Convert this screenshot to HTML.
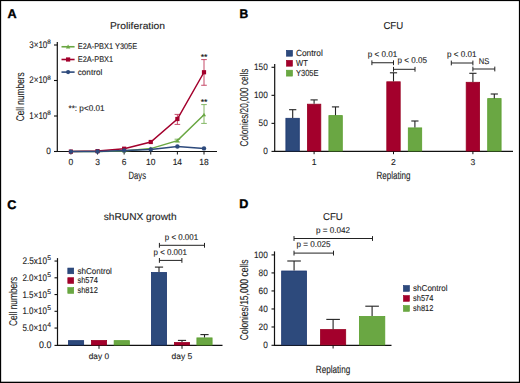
<!DOCTYPE html>
<html><head><meta charset="utf-8"><style>
html,body{margin:0;padding:0;background:#fff;}
svg{display:block;font-family:"Liberation Sans",sans-serif;}
text{stroke:#1e1e1e;stroke-width:0.12px;text-rendering:geometricPrecision;}
</style></head><body>
<svg width="520" height="383" viewBox="0 0 520 383" fill="#1e1e1e">
<rect width="520" height="383" fill="#fff"/>
<text x="7.4" y="17.8" font-size="12.6" font-weight="bold" fill="#000" style="stroke:#000;stroke-width:0.4px">A</text>
<text x="110" y="29.2" font-size="9.7" textLength="55" lengthAdjust="spacingAndGlyphs">Proliferation</text>
<line x1="57.3" y1="42" x2="57.3" y2="152.05" stroke="#111" stroke-width="1.2"/>
<line x1="56.699999999999996" y1="151.5" x2="217" y2="151.5" stroke="#111" stroke-width="1.2"/>
<line x1="54" y1="45" x2="57.3" y2="45" stroke="#111" stroke-width="1.1"/>
<text x="47.3" y="47.6" font-size="9.7" textLength="18" lengthAdjust="spacingAndGlyphs" text-anchor="end">3×10</text>
<text x="47.3" y="44.0" font-size="6.3">8</text>
<line x1="54" y1="80.5" x2="57.3" y2="80.5" stroke="#111" stroke-width="1.1"/>
<text x="47.3" y="83.1" font-size="9.7" textLength="18" lengthAdjust="spacingAndGlyphs" text-anchor="end">2×10</text>
<text x="47.3" y="79.5" font-size="6.3">8</text>
<line x1="54" y1="116" x2="57.3" y2="116" stroke="#111" stroke-width="1.1"/>
<text x="47.3" y="118.6" font-size="9.7" textLength="18" lengthAdjust="spacingAndGlyphs" text-anchor="end">1×10</text>
<text x="47.3" y="115.0" font-size="6.3">8</text>
<line x1="54" y1="151.5" x2="57.3" y2="151.5" stroke="#111" stroke-width="1.1"/>
<text x="50.8" y="154.0" font-size="9.4" textLength="4.6" lengthAdjust="spacingAndGlyphs" text-anchor="end">0</text>
<line x1="70.9" y1="151.5" x2="70.9" y2="154.5" stroke="#111" stroke-width="1.0"/>
<text x="70.9" y="165.2" font-size="8.9" textLength="4.7" lengthAdjust="spacingAndGlyphs" text-anchor="middle">0</text>
<line x1="97.52000000000001" y1="151.5" x2="97.52000000000001" y2="154.5" stroke="#111" stroke-width="1.0"/>
<text x="97.52000000000001" y="165.2" font-size="8.9" textLength="4.7" lengthAdjust="spacingAndGlyphs" text-anchor="middle">3</text>
<line x1="124.14000000000001" y1="151.5" x2="124.14000000000001" y2="154.5" stroke="#111" stroke-width="1.0"/>
<text x="124.14000000000001" y="165.2" font-size="8.9" textLength="4.7" lengthAdjust="spacingAndGlyphs" text-anchor="middle">6</text>
<line x1="150.76" y1="151.5" x2="150.76" y2="154.5" stroke="#111" stroke-width="1.0"/>
<text x="150.76" y="165.2" font-size="8.9" textLength="9.4" lengthAdjust="spacingAndGlyphs" text-anchor="middle">10</text>
<line x1="177.38" y1="151.5" x2="177.38" y2="154.5" stroke="#111" stroke-width="1.0"/>
<text x="177.38" y="165.2" font-size="8.9" textLength="9.4" lengthAdjust="spacingAndGlyphs" text-anchor="middle">14</text>
<line x1="204.0" y1="151.5" x2="204.0" y2="154.5" stroke="#111" stroke-width="1.0"/>
<text x="204.0" y="165.2" font-size="8.9" textLength="9.4" lengthAdjust="spacingAndGlyphs" text-anchor="middle">18</text>
<text x="128.6" y="179.0" font-size="10.6" textLength="17.4" lengthAdjust="spacingAndGlyphs">Days</text>
<text x="24.0" y="96.8" font-size="11.2" textLength="49.0" lengthAdjust="spacingAndGlyphs" text-anchor="middle" transform="rotate(-90 24.0 96.8)">Cell numbers</text>
<line x1="61.5" y1="46.75" x2="74.6" y2="46.75" stroke="#6aa743" stroke-width="1.6"/>
<path d="M65.89999999999999 48.51 L68.1 44.55 L70.3 48.51 Z" fill="#6aa743"/>
<text x="77.75" y="49.25" font-size="8.2" textLength="59.4" lengthAdjust="spacingAndGlyphs">E2A-PBX1 Y305E</text>
<line x1="61.5" y1="59.5" x2="74.6" y2="59.5" stroke="#a3002c" stroke-width="1.6"/>
<rect x="66.0" y="57.4" width="4.2" height="4.2" fill="#a3002c"/>
<text x="77.75" y="62.0" font-size="8.2" textLength="35.4" lengthAdjust="spacingAndGlyphs">E2A-PBX1</text>
<line x1="61.5" y1="72.1" x2="74.6" y2="72.1" stroke="#2d4a7c" stroke-width="1.6"/>
<circle cx="68.1" cy="72.1" r="2.1" fill="#2d4a7c"/>
<text x="77.75" y="74.6" font-size="8.2" textLength="24.5" lengthAdjust="spacingAndGlyphs">control</text>
<text x="68.5" y="110.6" font-size="8.4" textLength="36" lengthAdjust="spacingAndGlyphs">**: p&lt;0.01</text>
<line x1="177.38" y1="114.4" x2="177.38" y2="124.4" stroke="#c54a68" stroke-width="1.0"/>
<line x1="174.57999999999998" y1="114.4" x2="180.18" y2="114.4" stroke="#c54a68" stroke-width="1.0"/>
<line x1="174.57999999999998" y1="124.4" x2="180.18" y2="124.4" stroke="#c54a68" stroke-width="1.0"/>
<line x1="204.0" y1="59.6" x2="204.0" y2="85.25" stroke="#c54a68" stroke-width="1.0"/>
<line x1="201.2" y1="59.6" x2="206.8" y2="59.6" stroke="#c54a68" stroke-width="1.0"/>
<line x1="201.2" y1="85.25" x2="206.8" y2="85.25" stroke="#c54a68" stroke-width="1.0"/>
<line x1="204.0" y1="104.6" x2="204.0" y2="123.4" stroke="#84b865" stroke-width="1.0"/>
<line x1="201.2" y1="104.6" x2="206.8" y2="104.6" stroke="#84b865" stroke-width="1.0"/>
<line x1="201.2" y1="123.4" x2="206.8" y2="123.4" stroke="#84b865" stroke-width="1.0"/>
<line x1="177.38" y1="139.2" x2="177.38" y2="142.0" stroke="#84b865" stroke-width="1.0"/>
<line x1="174.57999999999998" y1="139.2" x2="180.18" y2="139.2" stroke="#84b865" stroke-width="1.0"/>
<line x1="174.57999999999998" y1="142.0" x2="180.18" y2="142.0" stroke="#84b865" stroke-width="1.0"/>
<path d="M70.90 151.60 L97.52 151.40 L124.14 150.90 L150.76 148.60 L177.38 140.60 L204.00 114.75" stroke="#6aa743" stroke-width="1.5" fill="none"/>
<path d="M70.90 151.60 L97.52 151.10 L124.14 148.70 L150.76 142.00 L177.38 119.00 L204.00 72.25" stroke="#a3002c" stroke-width="1.5" fill="none"/>
<path d="M70.90 151.60 L97.52 151.50 L124.14 150.40 L150.76 149.40 L177.38 146.50 L204.00 148.40" stroke="#2d4a7c" stroke-width="1.5" fill="none"/>
<path d="M68.9 153.2 L70.9 149.6 L72.9 153.2 Z" fill="#6aa743"/>
<path d="M95.52000000000001 153.0 L97.52000000000001 149.4 L99.52000000000001 153.0 Z" fill="#6aa743"/>
<path d="M122.14000000000001 152.5 L124.14000000000001 148.9 L126.14000000000001 152.5 Z" fill="#6aa743"/>
<path d="M148.76 150.2 L150.76 146.6 L152.76 150.2 Z" fill="#6aa743"/>
<path d="M175.38 142.2 L177.38 138.6 L179.38 142.2 Z" fill="#6aa743"/>
<path d="M202.0 116.35 L204.0 112.75 L206.0 116.35 Z" fill="#6aa743"/>
<rect x="68.80000000000001" y="149.5" width="4.2" height="4.2" fill="#a3002c"/>
<rect x="95.42000000000002" y="149.0" width="4.2" height="4.2" fill="#a3002c"/>
<rect x="122.04000000000002" y="146.6" width="4.2" height="4.2" fill="#a3002c"/>
<rect x="148.66" y="139.9" width="4.2" height="4.2" fill="#a3002c"/>
<rect x="175.28" y="116.9" width="4.2" height="4.2" fill="#a3002c"/>
<rect x="201.9" y="70.15" width="4.2" height="4.2" fill="#a3002c"/>
<circle cx="70.9" cy="151.6" r="2.2" fill="#2d4a7c"/>
<circle cx="97.52000000000001" cy="151.5" r="2.2" fill="#2d4a7c"/>
<circle cx="124.14000000000001" cy="150.4" r="2.2" fill="#2d4a7c"/>
<circle cx="150.76" cy="149.4" r="2.2" fill="#2d4a7c"/>
<circle cx="177.38" cy="146.5" r="2.2" fill="#2d4a7c"/>
<circle cx="204.0" cy="148.4" r="2.2" fill="#2d4a7c"/>
<text x="204.1" y="59.6" font-size="8.8" text-anchor="middle" fill="#000">**</text>
<text x="204.1" y="104.9" font-size="8.8" text-anchor="middle" fill="#000">**</text>
<text x="239.4" y="17.8" font-size="12.6" textLength="8.7" lengthAdjust="spacingAndGlyphs" font-weight="bold" fill="#000" style="stroke:#000;stroke-width:0.4px">B</text>
<text x="383.4" y="29.4" font-size="10.1" textLength="19.8" lengthAdjust="spacingAndGlyphs">CFU</text>
<line x1="274.7" y1="64" x2="274.7" y2="151.95000000000002" stroke="#111" stroke-width="1.2"/>
<line x1="274.09999999999997" y1="151.4" x2="513" y2="151.4" stroke="#111" stroke-width="1.25"/>
<line x1="271.5" y1="151.4" x2="274.7" y2="151.4" stroke="#111" stroke-width="1.1"/>
<text x="267.8" y="154.0" font-size="9.4" textLength="4.6" lengthAdjust="spacingAndGlyphs" text-anchor="end">0</text>
<line x1="271.5" y1="123.36500000000001" x2="274.7" y2="123.36500000000001" stroke="#111" stroke-width="1.1"/>
<text x="267.8" y="125.965" font-size="9.4" textLength="9.2" lengthAdjust="spacingAndGlyphs" text-anchor="end">50</text>
<line x1="271.5" y1="95.33000000000001" x2="274.7" y2="95.33000000000001" stroke="#111" stroke-width="1.1"/>
<text x="267.8" y="97.93" font-size="9.4" textLength="13.799999999999999" lengthAdjust="spacingAndGlyphs" text-anchor="end">100</text>
<line x1="271.5" y1="67.29500000000002" x2="274.7" y2="67.29500000000002" stroke="#111" stroke-width="1.1"/>
<text x="267.8" y="69.89500000000001" font-size="9.4" textLength="13.799999999999999" lengthAdjust="spacingAndGlyphs" text-anchor="end">150</text>
<text x="248.3" y="107.6" font-size="11.4" textLength="77.8" lengthAdjust="spacingAndGlyphs" text-anchor="middle" transform="rotate(-90 248.3 107.6)">Colonies/20,000 cells</text>
<rect x="286.40" y="50.30" width="6.10" height="5.90" fill="#2d4a7c" stroke="#1c3770" stroke-width="0.6"/>
<text x="296" y="56.3" font-size="8.8" textLength="26.75" lengthAdjust="spacingAndGlyphs">Control</text>
<rect x="286.40" y="60.30" width="6.10" height="5.90" fill="#a3002c" stroke="#980022" stroke-width="0.6"/>
<text x="296" y="66.3" font-size="8.8" textLength="11.75" lengthAdjust="spacingAndGlyphs">WT</text>
<rect x="286.40" y="70.20" width="6.10" height="5.90" fill="#6aa743" stroke="#5a9f2e" stroke-width="0.6"/>
<text x="296" y="76.2" font-size="8.8" textLength="22.5" lengthAdjust="spacingAndGlyphs">Y305E</text>
<rect x="285.90" y="118.30" width="13.40" height="32.70" fill="#2d4a7c" stroke="#1c3770" stroke-width="0.8"/>
<rect x="307.40" y="104.20" width="13.40" height="46.80" fill="#a3002c" stroke="#980022" stroke-width="0.8"/>
<rect x="328.90" y="115.60" width="13.40" height="35.40" fill="#6aa743" stroke="#5a9f2e" stroke-width="0.8"/>
<line x1="314.1" y1="151.4" x2="314.1" y2="154.20000000000002" stroke="#111" stroke-width="1.0"/>
<text x="314.1" y="165.2" font-size="8.6" text-anchor="middle">1</text>
<rect x="386.80" y="81.80" width="13.40" height="69.20" fill="#a3002c" stroke="#980022" stroke-width="0.8"/>
<rect x="408.30" y="127.90" width="13.40" height="23.10" fill="#6aa743" stroke="#5a9f2e" stroke-width="0.8"/>
<line x1="393.5" y1="151.4" x2="393.5" y2="154.20000000000002" stroke="#111" stroke-width="1.0"/>
<text x="393.5" y="165.2" font-size="8.6" text-anchor="middle">2</text>
<rect x="466.20" y="82.30" width="13.40" height="68.70" fill="#a3002c" stroke="#980022" stroke-width="0.8"/>
<rect x="487.70" y="98.60" width="13.40" height="52.40" fill="#6aa743" stroke="#5a9f2e" stroke-width="0.8"/>
<line x1="472.9" y1="151.4" x2="472.9" y2="154.20000000000002" stroke="#111" stroke-width="1.0"/>
<text x="472.9" y="165.2" font-size="8.6" text-anchor="middle">3</text>
<line x1="292.7" y1="117.9" x2="292.7" y2="109.7" stroke="#222" stroke-width="1.1"/>
<line x1="289.09999999999997" y1="109.7" x2="296.3" y2="109.7" stroke="#222" stroke-width="1.1"/>
<line x1="314.1" y1="103.8" x2="314.1" y2="99.9" stroke="#222" stroke-width="1.1"/>
<line x1="310.5" y1="99.9" x2="317.70000000000005" y2="99.9" stroke="#222" stroke-width="1.1"/>
<line x1="335.5" y1="115.2" x2="335.5" y2="106.9" stroke="#222" stroke-width="1.1"/>
<line x1="331.9" y1="106.9" x2="339.1" y2="106.9" stroke="#222" stroke-width="1.1"/>
<line x1="393.5" y1="81.4" x2="393.5" y2="72.8" stroke="#222" stroke-width="1.1"/>
<line x1="389.9" y1="72.8" x2="397.1" y2="72.8" stroke="#222" stroke-width="1.1"/>
<line x1="414.9" y1="127.5" x2="414.9" y2="121.0" stroke="#222" stroke-width="1.1"/>
<line x1="411.29999999999995" y1="121.0" x2="418.5" y2="121.0" stroke="#222" stroke-width="1.1"/>
<line x1="472.9" y1="81.9" x2="472.9" y2="73.3" stroke="#222" stroke-width="1.1"/>
<line x1="469.29999999999995" y1="73.3" x2="476.5" y2="73.3" stroke="#222" stroke-width="1.1"/>
<line x1="494.3" y1="98.4" x2="494.3" y2="94.0" stroke="#222" stroke-width="1.1"/>
<line x1="490.7" y1="94.0" x2="497.90000000000003" y2="94.0" stroke="#222" stroke-width="1.1"/>
<text x="376.5" y="179.0" font-size="10.6" textLength="34.0" lengthAdjust="spacingAndGlyphs">Replating</text>
<line x1="371.9" y1="62.75" x2="393.5" y2="62.75" stroke="#222" stroke-width="1.0"/>
<line x1="371.9" y1="60.35" x2="371.9" y2="65.15" stroke="#222" stroke-width="1.0"/>
<line x1="393.5" y1="60.35" x2="393.5" y2="65.15" stroke="#222" stroke-width="1.0"/>
<line x1="393.5" y1="69.3" x2="415" y2="69.3" stroke="#222" stroke-width="1.0"/>
<line x1="393.5" y1="66.89999999999999" x2="393.5" y2="71.7" stroke="#222" stroke-width="1.0"/>
<line x1="415" y1="66.89999999999999" x2="415" y2="71.7" stroke="#222" stroke-width="1.0"/>
<line x1="451.3" y1="63" x2="472.9" y2="63" stroke="#222" stroke-width="1.0"/>
<line x1="451.3" y1="60.6" x2="451.3" y2="65.4" stroke="#222" stroke-width="1.0"/>
<line x1="472.9" y1="60.6" x2="472.9" y2="65.4" stroke="#222" stroke-width="1.0"/>
<line x1="472.9" y1="69" x2="494.8" y2="69" stroke="#222" stroke-width="1.0"/>
<line x1="472.9" y1="66.6" x2="472.9" y2="71.4" stroke="#222" stroke-width="1.0"/>
<line x1="494.8" y1="66.6" x2="494.8" y2="71.4" stroke="#222" stroke-width="1.0"/>
<text x="367.75" y="56.5" font-size="8.4" textLength="29.4" lengthAdjust="spacingAndGlyphs">p &lt; 0.01</text>
<text x="397.5" y="63.4" font-size="8.4" textLength="29.4" lengthAdjust="spacingAndGlyphs">p &lt; 0.05</text>
<text x="447" y="56.7" font-size="8.4" textLength="29.4" lengthAdjust="spacingAndGlyphs">p &lt; 0.01</text>
<text x="478.8" y="63.8" font-size="8.4" textLength="10.5" lengthAdjust="spacingAndGlyphs">NS</text>
<text x="7.2" y="208.6" font-size="12.6" font-weight="bold" fill="#000" style="stroke:#000;stroke-width:0.4px">C</text>
<text x="103.75" y="220" font-size="10.0" textLength="72.8" lengthAdjust="spacingAndGlyphs">shRUNX growth</text>
<line x1="57.5" y1="258.1" x2="57.5" y2="345.95" stroke="#111" stroke-width="1.2"/>
<line x1="56.9" y1="345.4" x2="222.5" y2="345.4" stroke="#111" stroke-width="1.2"/>
<line x1="54.5" y1="261.05" x2="57.5" y2="261.05" stroke="#111" stroke-width="1.1"/>
<text x="47.0" y="264.05" font-size="9.6" textLength="24.6" lengthAdjust="spacingAndGlyphs" text-anchor="end">2.5x10</text>
<text x="47.3" y="260.15000000000003" font-size="6.7">5</text>
<line x1="54.5" y1="277.8" x2="57.5" y2="277.8" stroke="#111" stroke-width="1.1"/>
<text x="47.0" y="280.8" font-size="9.6" textLength="24.6" lengthAdjust="spacingAndGlyphs" text-anchor="end">2.0×10</text>
<text x="47.3" y="276.90000000000003" font-size="6.7">5</text>
<line x1="54.5" y1="294.55" x2="57.5" y2="294.55" stroke="#111" stroke-width="1.1"/>
<text x="47.0" y="297.55" font-size="9.6" textLength="24.6" lengthAdjust="spacingAndGlyphs" text-anchor="end">1.5×10</text>
<text x="47.3" y="293.65000000000003" font-size="6.7">5</text>
<line x1="54.5" y1="311.3" x2="57.5" y2="311.3" stroke="#111" stroke-width="1.1"/>
<text x="47.0" y="314.3" font-size="9.6" textLength="24.6" lengthAdjust="spacingAndGlyphs" text-anchor="end">1.0×10</text>
<text x="47.3" y="310.40000000000003" font-size="6.7">5</text>
<line x1="54.5" y1="328.05" x2="57.5" y2="328.05" stroke="#111" stroke-width="1.1"/>
<text x="47.0" y="331.05" font-size="9.6" textLength="24.6" lengthAdjust="spacingAndGlyphs" text-anchor="end">5.0×10</text>
<text x="47.3" y="327.15000000000003" font-size="6.7">4</text>
<line x1="54.5" y1="345.4" x2="57.5" y2="345.4" stroke="#111" stroke-width="1.1"/>
<text x="51.4" y="348.4" font-size="9.6" textLength="12.4" lengthAdjust="spacingAndGlyphs" text-anchor="end">0.0</text>
<text x="16.8" y="301.4" font-size="11.2" textLength="49.3" lengthAdjust="spacingAndGlyphs" text-anchor="middle" transform="rotate(-90 16.8 301.4)">Cell numbers</text>
<rect x="67.80" y="268.05" width="5.90" height="5.70" fill="#2d4a7c" stroke="#1c3770" stroke-width="0.6"/>
<text x="77.5" y="273.65" font-size="8.6" textLength="34.4" lengthAdjust="spacingAndGlyphs">shControl</text>
<rect x="67.80" y="277.70" width="5.90" height="5.70" fill="#a3002c" stroke="#980022" stroke-width="0.6"/>
<text x="77.5" y="283.29999999999995" font-size="8.6" textLength="20.3" lengthAdjust="spacingAndGlyphs">sh574</text>
<rect x="67.80" y="287.60" width="5.90" height="5.70" fill="#6aa743" stroke="#5a9f2e" stroke-width="0.6"/>
<text x="77.5" y="293.2" font-size="8.6" textLength="20.3" lengthAdjust="spacingAndGlyphs">sh812</text>
<rect x="68.45" y="340.65" width="15.20" height="4.35" fill="#2d4a7c" stroke="#1c3770" stroke-width="0.8"/>
<rect x="91.40" y="340.50" width="15.20" height="4.50" fill="#a3002c" stroke="#980022" stroke-width="0.8"/>
<rect x="114.15" y="340.65" width="15.20" height="4.35" fill="#6aa743" stroke="#5a9f2e" stroke-width="0.8"/>
<rect x="151.40" y="272.50" width="15.20" height="72.50" fill="#2d4a7c" stroke="#1c3770" stroke-width="0.8"/>
<rect x="174.40" y="342.50" width="15.20" height="2.50" fill="#a3002c" stroke="#980022" stroke-width="0.8"/>
<rect x="196.90" y="337.90" width="15.20" height="7.10" fill="#6aa743" stroke="#5a9f2e" stroke-width="0.8"/>
<line x1="99.0" y1="345.4" x2="99.0" y2="348.79999999999995" stroke="#111" stroke-width="1.0"/>
<line x1="182.0" y1="345.4" x2="182.0" y2="348.79999999999995" stroke="#111" stroke-width="1.0"/>
<line x1="159.0" y1="272.1" x2="159.0" y2="267.1" stroke="#222" stroke-width="1.1"/>
<line x1="154.9" y1="267.1" x2="163.1" y2="267.1" stroke="#222" stroke-width="1.1"/>
<line x1="182.0" y1="342.1" x2="182.0" y2="340.4" stroke="#222" stroke-width="1.1"/>
<line x1="177.9" y1="340.4" x2="186.1" y2="340.4" stroke="#222" stroke-width="1.1"/>
<line x1="204.5" y1="337.5" x2="204.5" y2="334.6" stroke="#222" stroke-width="1.1"/>
<line x1="200.4" y1="334.6" x2="208.6" y2="334.6" stroke="#222" stroke-width="1.1"/>
<text x="88.75" y="358.75" font-size="8.2" textLength="20.25" lengthAdjust="spacingAndGlyphs">day 0</text>
<text x="171.5" y="358.75" font-size="8.2" textLength="20.75" lengthAdjust="spacingAndGlyphs">day 5</text>
<line x1="159.4" y1="245.3" x2="204.5" y2="245.3" stroke="#222" stroke-width="1.0"/>
<line x1="159.4" y1="242.9" x2="159.4" y2="247.70000000000002" stroke="#222" stroke-width="1.0"/>
<line x1="204.5" y1="242.9" x2="204.5" y2="247.70000000000002" stroke="#222" stroke-width="1.0"/>
<line x1="159.4" y1="260.4" x2="181.9" y2="260.4" stroke="#222" stroke-width="1.0"/>
<line x1="159.4" y1="258.0" x2="159.4" y2="262.79999999999995" stroke="#222" stroke-width="1.0"/>
<line x1="181.9" y1="258.0" x2="181.9" y2="262.79999999999995" stroke="#222" stroke-width="1.0"/>
<text x="164.75" y="240.0" font-size="8.4" textLength="33.4" lengthAdjust="spacingAndGlyphs">p &lt; 0.001</text>
<text x="153.5" y="254.8" font-size="8.4" textLength="33.4" lengthAdjust="spacingAndGlyphs">p &lt; 0.001</text>
<text x="239.3" y="208.3" font-size="12.6" font-weight="bold" fill="#000" style="stroke:#000;stroke-width:0.4px">D</text>
<text x="323.0" y="220" font-size="10.0" textLength="19.8" lengthAdjust="spacingAndGlyphs">CFU</text>
<line x1="274.5" y1="251.4" x2="274.5" y2="345.85" stroke="#111" stroke-width="1.2"/>
<line x1="273.9" y1="345.3" x2="391.5" y2="345.3" stroke="#111" stroke-width="1.2"/>
<line x1="271.5" y1="345.3" x2="274.5" y2="345.3" stroke="#111" stroke-width="1.1"/>
<text x="267.8" y="348.0" font-size="9.4" textLength="4.6" lengthAdjust="spacingAndGlyphs" text-anchor="end">0</text>
<line x1="271.5" y1="326.98" x2="274.5" y2="326.98" stroke="#111" stroke-width="1.1"/>
<text x="267.8" y="329.68" font-size="9.4" textLength="9.2" lengthAdjust="spacingAndGlyphs" text-anchor="end">20</text>
<line x1="271.5" y1="308.96" x2="274.5" y2="308.96" stroke="#111" stroke-width="1.1"/>
<text x="267.8" y="311.65999999999997" font-size="9.4" textLength="9.2" lengthAdjust="spacingAndGlyphs" text-anchor="end">40</text>
<line x1="271.5" y1="290.94" x2="274.5" y2="290.94" stroke="#111" stroke-width="1.1"/>
<text x="267.8" y="293.64" font-size="9.4" textLength="9.2" lengthAdjust="spacingAndGlyphs" text-anchor="end">60</text>
<line x1="271.5" y1="272.92" x2="274.5" y2="272.92" stroke="#111" stroke-width="1.1"/>
<text x="267.8" y="275.62" font-size="9.4" textLength="9.2" lengthAdjust="spacingAndGlyphs" text-anchor="end">80</text>
<line x1="271.5" y1="254.89999999999998" x2="274.5" y2="254.89999999999998" stroke="#111" stroke-width="1.1"/>
<text x="267.8" y="257.59999999999997" font-size="9.4" textLength="13.799999999999999" lengthAdjust="spacingAndGlyphs" text-anchor="end">100</text>
<text x="248.3" y="299.9" font-size="11.4" textLength="80.6" lengthAdjust="spacingAndGlyphs" text-anchor="middle" transform="rotate(-90 248.3 299.9)">Colonies/15,000 cells</text>
<rect x="281.65" y="271.00" width="24.85" height="73.90" fill="#2d4a7c" stroke="#1c3770" stroke-width="0.8"/>
<line x1="294.075" y1="270.6" x2="294.075" y2="261.0" stroke="#222" stroke-width="1.1"/>
<line x1="287.275" y1="261.0" x2="300.875" y2="261.0" stroke="#222" stroke-width="1.1"/>
<rect x="320.50" y="329.60" width="25.20" height="15.30" fill="#a3002c" stroke="#980022" stroke-width="0.8"/>
<line x1="333.1" y1="329.2" x2="333.1" y2="319.4" stroke="#222" stroke-width="1.1"/>
<line x1="326.3" y1="319.4" x2="339.90000000000003" y2="319.4" stroke="#222" stroke-width="1.1"/>
<rect x="359.40" y="316.50" width="25.40" height="28.40" fill="#6aa743" stroke="#5a9f2e" stroke-width="0.8"/>
<line x1="372.1" y1="316.1" x2="372.1" y2="306.2" stroke="#222" stroke-width="1.1"/>
<line x1="365.3" y1="306.2" x2="378.90000000000003" y2="306.2" stroke="#222" stroke-width="1.1"/>
<line x1="333.1" y1="345.3" x2="333.1" y2="348.5" stroke="#111" stroke-width="1.0"/>
<text x="315.8" y="372.9" font-size="10.6" textLength="34.4" lengthAdjust="spacingAndGlyphs">Replating</text>
<line x1="294" y1="238.5" x2="372.5" y2="238.5" stroke="#222" stroke-width="1.0"/>
<line x1="294" y1="236.1" x2="294" y2="240.9" stroke="#222" stroke-width="1.0"/>
<line x1="372.5" y1="236.1" x2="372.5" y2="240.9" stroke="#222" stroke-width="1.0"/>
<line x1="294" y1="253.1" x2="333.5" y2="253.1" stroke="#222" stroke-width="1.0"/>
<line x1="294" y1="250.7" x2="294" y2="255.5" stroke="#222" stroke-width="1.0"/>
<line x1="333.5" y1="250.7" x2="333.5" y2="255.5" stroke="#222" stroke-width="1.0"/>
<text x="316" y="233.4" font-size="8.4" textLength="34" lengthAdjust="spacingAndGlyphs">p = 0.042</text>
<text x="296.5" y="247.0" font-size="8.4" textLength="34.1" lengthAdjust="spacingAndGlyphs">p = 0.025</text>
<rect x="403.40" y="285.55" width="6.05" height="5.75" fill="#2d4a7c" stroke="#1c3770" stroke-width="0.6"/>
<text x="413.1" y="290.65" font-size="8.6" textLength="34.4" lengthAdjust="spacingAndGlyphs">shControl</text>
<rect x="403.40" y="295.55" width="6.05" height="5.75" fill="#a3002c" stroke="#980022" stroke-width="0.6"/>
<text x="413.1" y="300.65" font-size="8.6" textLength="20.3" lengthAdjust="spacingAndGlyphs">sh574</text>
<rect x="403.40" y="305.55" width="6.05" height="5.75" fill="#6aa743" stroke="#5a9f2e" stroke-width="0.6"/>
<text x="413.1" y="310.65" font-size="8.6" textLength="20.3" lengthAdjust="spacingAndGlyphs">sh812</text>
<rect x="0" y="0" width="520" height="1.1" fill="#000"/>
<rect x="0" y="0" width="1.15" height="383" fill="#000"/>
<rect x="518.9" y="0" width="1.1" height="383" fill="#000"/>
<rect x="0" y="381.7" width="520" height="1.3" fill="#000"/>
</svg></body></html>
